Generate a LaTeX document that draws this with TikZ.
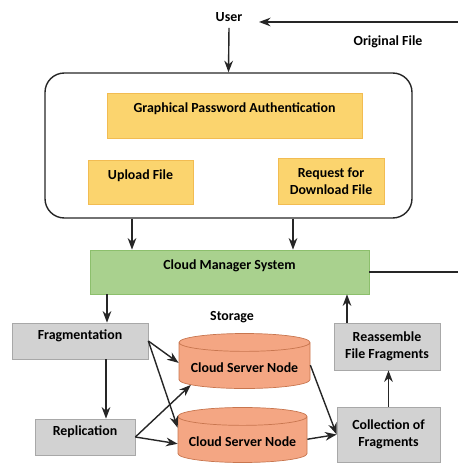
\documentclass[tikz,border=0pt]{standalone}
\usepackage{fontspec}
\setmainfont{Carlito}
\usetikzlibrary{arrows.meta, positioning, shapes.geometric, calc}
\definecolor{authFill}{HTML}{FBD46E}
\definecolor{authLine}{HTML}{F2BC52}
\definecolor{cloudFill}{HTML}{A9D18E}
\definecolor{cloudLine}{HTML}{8CBF6C}
\definecolor{stepFill}{HTML}{D2D2D2}
\definecolor{stepLine}{HTML}{A8A8A8}
\definecolor{serverFill}{HTML}{F4A683}
\definecolor{serverLine}{HTML}{C8764F}

\begin{document}
\begin{tikzpicture}[
  >=Stealth,
  font=\fontsize{7.9}{9.4}\selectfont\bfseries,
  flow/.style={->, thick, draw=black!85},
  link/.style={thick, draw=black!85},
  panel/.style={draw=black!85, thick, rounded corners=11pt},
  authbox/.style={draw=authLine, fill=authFill, align=center},
  cloudbox/.style={draw=cloudLine, fill=cloudFill, align=center},
  stepbox/.style={draw=stepLine, fill=stepFill, align=center},
  server/.style={cylinder, shape border rotate=90, aspect=0.15, draw=serverLine, fill=serverFill,
    minimum width=2.62cm, minimum height=1.1cm},
  upper/.style={text depth=#1}
]
  \useasboundingbox (0,0) rectangle (9.14,9.26);

  \node (user) at (4.58,8.92) {User};
  \node (orig) at (7.76,8.42) {Original File};
  \coordinate (ret) at (5.18,8.82);
  \coordinate (back) at (9.4,8.82);

  % Client side
  \node[panel, minimum width=7.34cm, minimum height=2.9cm] (client) at (4.57,6.35) {};
  \node[authbox, minimum width=5.1cm, minimum height=0.9cm, upper=0.33cm] (gpa) at (4.69,6.95)
    {Graphical Password Authentication};
  \node[authbox, minimum width=2.1cm, minimum height=0.88cm, upper=0.3cm] (upload) at (2.81,5.62)
    {Upload File};
  \node[authbox, minimum width=2.12cm, minimum height=0.92cm] (request) at (6.62,5.64)
    {Request for\\Download File};

  \node[cloudbox, minimum width=5.58cm, minimum height=0.88cm, upper=0.3cm] (cms) at (4.59,3.82)
    {Cloud Manager System};

  % Storage side
  \node (storage) at (4.64,2.92) {Storage};
  \node[stepbox, minimum width=2.72cm, minimum height=0.72cm, upper=0.24cm] (frag) at (1.6,2.44)
    {Fragmentation};
  \node[stepbox, minimum width=2.0cm, minimum height=0.72cm, upper=0.24cm] (repl) at (1.7,0.52)
    {Replication};
  \node[server] (srvA) at (4.89,1.91) {Cloud Server Node};
  \node[server, minimum width=2.58cm] (srvB) at (4.85,0.43) {Cloud Server Node};
  \node[stepbox, minimum width=2.12cm, minimum height=0.94cm] (reas) at (7.74,2.33)
    {Reassemble\\File Fragments};
  \node[stepbox, minimum width=2.06cm, minimum height=1.1cm] (coll) at (7.77,0.57)
    {Collection of\\Fragments};

  \draw[flow] (user.south) -- (client.north);
  \draw[flow] (client.south -| 2.64,0) -- (cms.north -| 2.64,0);
  \draw[flow] (client.south -| 5.86,0) -- (cms.north -| 5.86,0);
  \draw[link] (cms.east) -| (back);
  \draw[flow] (back) -- (ret);

  \draw[flow] (cms.south -| 2.14,0) -- (frag.north -| 2.14,0);
  \draw[flow] (frag.south -| 2.12,0) -- (repl.north -| 2.12,0);
  \draw[flow] (frag.east) -- (srvA.176);
  \draw[flow] (frag.east) -- (srvB.168);
  \draw[flow] (repl.east) -- (srvA.198);
  \draw[flow] (repl.east) -- (srvB.182);
  \draw[flow] (srvA.2) -- (coll.west);
  \draw[flow] (srvB.2) -- (coll.west);
  \draw[flow] (coll.north) -- (reas.south -| coll.north);
  \draw[flow] (reas.north -| 6.94,0) -- (cms.south -| 6.94,0);
\end{tikzpicture}
\end{document}
